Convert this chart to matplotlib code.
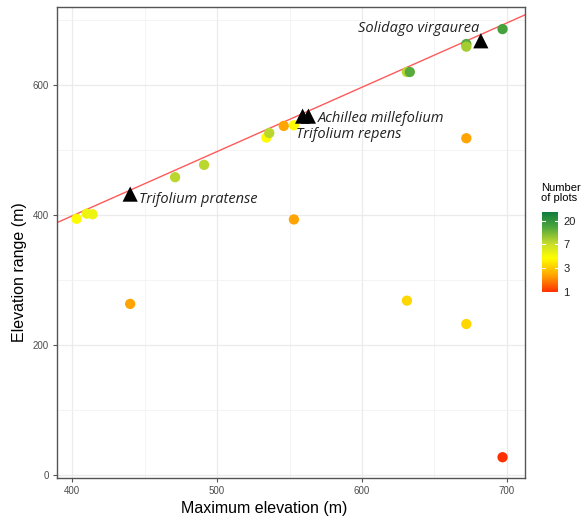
import numpy as np
import matplotlib
matplotlib.use("Agg")
import matplotlib.pyplot as plt
from matplotlib.colors import LinearSegmentedColormap, LogNorm
from matplotlib.ticker import FixedLocator

# ---- data ----
max_elevation = [403, 410, 414, 471, 491, 534, 536, 546, 553, 553, 440,
                 631, 633, 672, 672, 697, 672, 631, 672, 697]
elevation_range = [394, 402, 401, 458, 477, 519, 526, 537, 538, 393, 263,
                   620, 620, 663, 659, 686, 518, 268, 232, 27]
n_plots = [4, 5, 5, 8, 8, 4, 8, 2, 4, 2, 2,
           8, 14, 14, 9, 16, 2, 3, 3, 1]

species = ["Trifolium pratense", "Trifolium repens", "Achillea millefolium", "Solidago virgaurea"]
species_max = [440, 559, 563, 682]
species_range = [432, 552, 552, 668]

line_intercept = 2.5
line_slope = 0.99

cbar_ticks = [1, np.e, np.e ** 2, np.e ** 3]
cbar_labels = ["1", "3", "7", "20"]
n_min, n_max = 1, 29

# ---- figure ----
W, H = 584, 525
SANS = ["Liberation Sans", "DejaVu Sans"]
fig = plt.figure(figsize=(W / 100, H / 100), dpi=100)
ax = fig.add_axes([57 / W, 1 - 478 / H, (525 - 57) / W, (478 - 7) / H])

cmap = LinearSegmentedColormap.from_list(
    "plots",
    [(0.0, "#ff3000"), (0.2, "#ffa200"), (0.42, "#ffff00"),
     (0.6, "#c6dc2e"), (0.8, "#4ea63c"), (1.0, "#0b7a3e")])
norm = LogNorm(vmin=n_min, vmax=n_max)

ax.set_xlim(389.5, 712.5)
ax.set_ylim(-5, 720)

ax.axline((0, line_intercept), slope=line_slope, color="#ff5a5a", lw=1.0, zorder=2)

ax.scatter(max_elevation, elevation_range, c=n_plots, cmap=cmap, norm=norm,
           s=55, edgecolors="none", zorder=3)
ax.scatter(species_max, species_range, marker="^", color="black", s=120,
           edgecolors="none", zorder=4)

label_offsets = [(6, -4), (-5, -13), (7, -2), (-1, 9)]
label_ha = ["left", "left", "left", "right"]
for name, x, y, off, ha in zip(species, species_max, species_range, label_offsets, label_ha):
    ax.annotate(name, (x, y), xytext=off, textcoords="offset points",
                ha=ha, va="center", fontsize=10.5, style="italic",
                family=["Open Sans", "DejaVu Sans"], color="#222222", zorder=5)

# grid & style
ax.xaxis.set_major_locator(FixedLocator([400, 500, 600, 700]))
ax.xaxis.set_minor_locator(FixedLocator([450, 550, 650]))
ax.yaxis.set_major_locator(FixedLocator([0, 200, 400, 600]))
ax.yaxis.set_minor_locator(FixedLocator([100, 300, 500, 700]))
ax.grid(True, which="major", color="#ebebeb", lw=0.9, zorder=0)
ax.grid(True, which="minor", color="#f2f2f2", lw=0.6, zorder=0)
ax.set_axisbelow(True)
for s in ax.spines.values():
    s.set_color("#555555")
    s.set_linewidth(1.0)
ax.tick_params(which="major", length=3, width=0.8, color="#555555",
               labelsize=7, labelcolor="#4d4d4d", pad=3)
ax.tick_params(which="minor", length=0)
for lab in ax.get_xticklabels() + ax.get_yticklabels():
    lab.set_family(SANS)

fig.text(264 / W, 1 - 508 / H, "Maximum elevation (m)", fontsize=11.5,
         family=SANS, ha="center", va="center")
fig.text(20 / W, 1 - 272 / H, "Elevation range (m)", fontsize=11.5,
         family=SANS, ha="center", va="center", rotation=90)

# colorbar legend
cax = fig.add_axes([542 / W, 1 - 292 / H, 16 / W, 80 / H])
grad = np.logspace(np.log10(n_min), np.log10(n_max), 256).reshape(-1, 1)
cax.imshow(grad, aspect="auto", cmap=cmap, norm=norm, origin="lower",
           extent=[0, 1, np.log(n_min), np.log(n_max)])
cax.set_xlim(0, 1)
cax.set_ylim(np.log(n_min), np.log(n_max))
for t in cbar_ticks:
    lt = np.log(t)
    cax.plot([0, 0.2], [lt, lt], color="white", lw=0.8)
    cax.plot([0.8, 1], [lt, lt], color="white", lw=0.8)
cax.set_xticks([])
cax.set_yticks([np.log(t) for t in cbar_ticks])
cax.set_yticklabels(cbar_labels, family=SANS)
cax.yaxis.tick_right()
cax.tick_params(axis="y", length=0, labelsize=8, pad=4, labelcolor="#222222")
for s in cax.spines.values():
    s.set_visible(False)
fig.text(541 / W, 1 - 183 / H, "Number\nof plots", fontsize=8, ha="left", va="top",
         linespacing=1.0, family=SANS)

fig.savefig("out.png", dpi=100)
